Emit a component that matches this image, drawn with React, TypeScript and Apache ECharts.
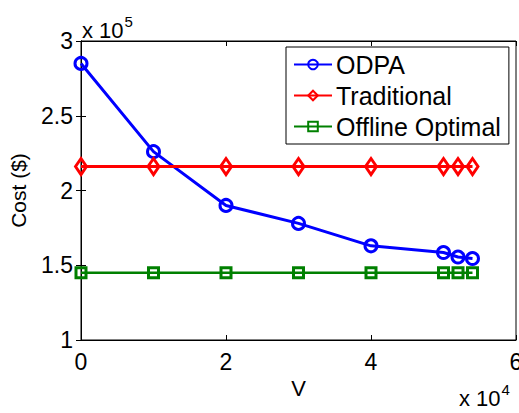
import React, { useEffect, useRef } from "react";
import * as echarts from "echarts";

const vValues = [0, 10000, 20000, 30000, 40000, 50000, 52000, 54000];
const odpa = [285000, 226000, 190000, 178000, 163000, 158500, 155500, 154500];
const traditional = [216000, 216000, 216000, 216000, 216000, 216000, 216000, 216000];
const offline = [145000, 145000, 145000, 145000, 145000, 145000, 145000, 145000];
const seriesNames = ["ODPA", "Traditional", "Offline Optimal"];

const FONT = "'Liberation Sans', Arial, Helvetica, sans-serif";

export default function App() {
  const ref = useRef<HTMLDivElement>(null);
  useEffect(() => {
    if (!ref.current) return;
    const chart = echarts.init(ref.current, null, { renderer: "svg" });
    const pair = (ys: number[]) => vValues.map((v, i) => [v, ys[i]]);
    const tickLabel = { fontFamily: FONT, fontSize: 23, color: "#000" };
    chart.setOption({
      animation: false,
      backgroundColor: "#fff",
      grid: {
        left: 81,
        right: 3,
        top: 41,
        bottom: 73,
        outerBoundsMode: "none",
        containLabel: false,
        show: true,
        borderColor: "#000",
        borderWidth: 1,
        backgroundColor: "transparent",
      },
      xAxis: [
        {
          type: "value",
          min: 0,
          max: 60000,
          interval: 20000,
          position: "bottom",
          axisLine: { show: true, lineStyle: { color: "#000", width: 1 } },
          axisTick: { show: true, inside: true, length: 5, lineStyle: { color: "#000" } },
          splitLine: { show: false },
          axisLabel: {
            ...tickLabel,
            margin: 10,
            formatter: (v: number) => String(v / 10000),
          },
          name: "V",
          nameLocation: "middle",
          nameGap: 34,
          nameTextStyle: { fontFamily: FONT, fontSize: 22, color: "#000" },
        },
        {
          type: "value",
          min: 0,
          max: 60000,
          interval: 20000,
          position: "top",
          axisLine: { show: true, lineStyle: { color: "#000", width: 1 } },
          axisTick: { show: true, inside: true, length: 5, lineStyle: { color: "#000" } },
          splitLine: { show: false },
          axisLabel: { show: false },
        },
      ],
      yAxis: [
        {
          type: "value",
          min: 100000,
          max: 300000,
          interval: 50000,
          position: "left",
          axisLine: { show: true, lineStyle: { color: "#000", width: 1 } },
          axisTick: { show: true, inside: true, length: 5, lineStyle: { color: "#000" } },
          splitLine: { show: false },
          axisLabel: {
            ...tickLabel,
            margin: 8,
            formatter: (v: number) => String(v / 100000),
          },
          name: "Cost ($)",
          nameLocation: "middle",
          nameGap: 52,
          nameRotate: 90,
          nameTextStyle: { fontFamily: FONT, fontSize: 21, color: "#000" },
        },
        {
          type: "value",
          min: 100000,
          max: 300000,
          interval: 50000,
          position: "right",
          axisLine: { show: true, lineStyle: { color: "#000", width: 1 } },
          axisTick: { show: true, inside: true, length: 5, lineStyle: { color: "#000" } },
          splitLine: { show: false },
          axisLabel: { show: false },
        },
      ],
      legend: {
        left: 286,
        top: 47,
        orient: "vertical",
        data: seriesNames,
        backgroundColor: "#fff",
        borderColor: "#000",
        borderWidth: 1,
        padding: [5, 8, 5, 7],
        itemGap: 6,
        itemWidth: 38,
        itemHeight: 12,
        textStyle: { fontFamily: FONT, fontSize: 25, color: "#000", padding: [0, 0, 0, -1] },
      },
      graphic: [
        {
          type: "text",
          left: 82,
          top: 14,
          style: {
            text: "{a|x 10}{b|5}",
            rich: {
              a: { fontFamily: FONT, fontSize: 22, fill: "#000", verticalAlign: "bottom" },
              b: { fontFamily: FONT, fontSize: 15, fill: "#000", verticalAlign: "top", padding: [0, 0, 12, 1] },
            },
          },
        },
        {
          type: "text",
          left: 459,
          top: 382,
          style: {
            text: "{a|x 10}{b|4}",
            rich: {
              a: { fontFamily: FONT, fontSize: 22, fill: "#000", verticalAlign: "bottom" },
              b: { fontFamily: FONT, fontSize: 15, fill: "#000", verticalAlign: "top", padding: [0, 0, 12, 1] },
            },
          },
        },
      ],
      series: [
        {
          name: seriesNames[0],
          type: "line",
          data: pair(odpa),
          symbol: "circle",
          symbolSize: 12,
          lineStyle: { color: "#0000ff", width: 3 },
          itemStyle: { color: "rgba(0,0,0,0)", borderColor: "#0000ff", borderWidth: 3 },
        },
        {
          name: seriesNames[1],
          type: "line",
          data: pair(traditional),
          symbol: "diamond",
          symbolSize: [11, 16],
          lineStyle: { color: "#ff0000", width: 3 },
          itemStyle: { color: "rgba(0,0,0,0)", borderColor: "#ff0000", borderWidth: 3 },
        },
        {
          name: seriesNames[2],
          type: "line",
          data: pair(offline),
          symbol: "rect",
          symbolSize: 10,
          lineStyle: { color: "#008000", width: 2.5 },
          itemStyle: { color: "rgba(0,0,0,0)", borderColor: "#008000", borderWidth: 3 },
        },
      ],
    });
    return () => chart.dispose();
  }, []);
  return <div ref={ref} style={{ width: 519, height: 413, position: "absolute", left: 0, top: 0 }} />;
}
